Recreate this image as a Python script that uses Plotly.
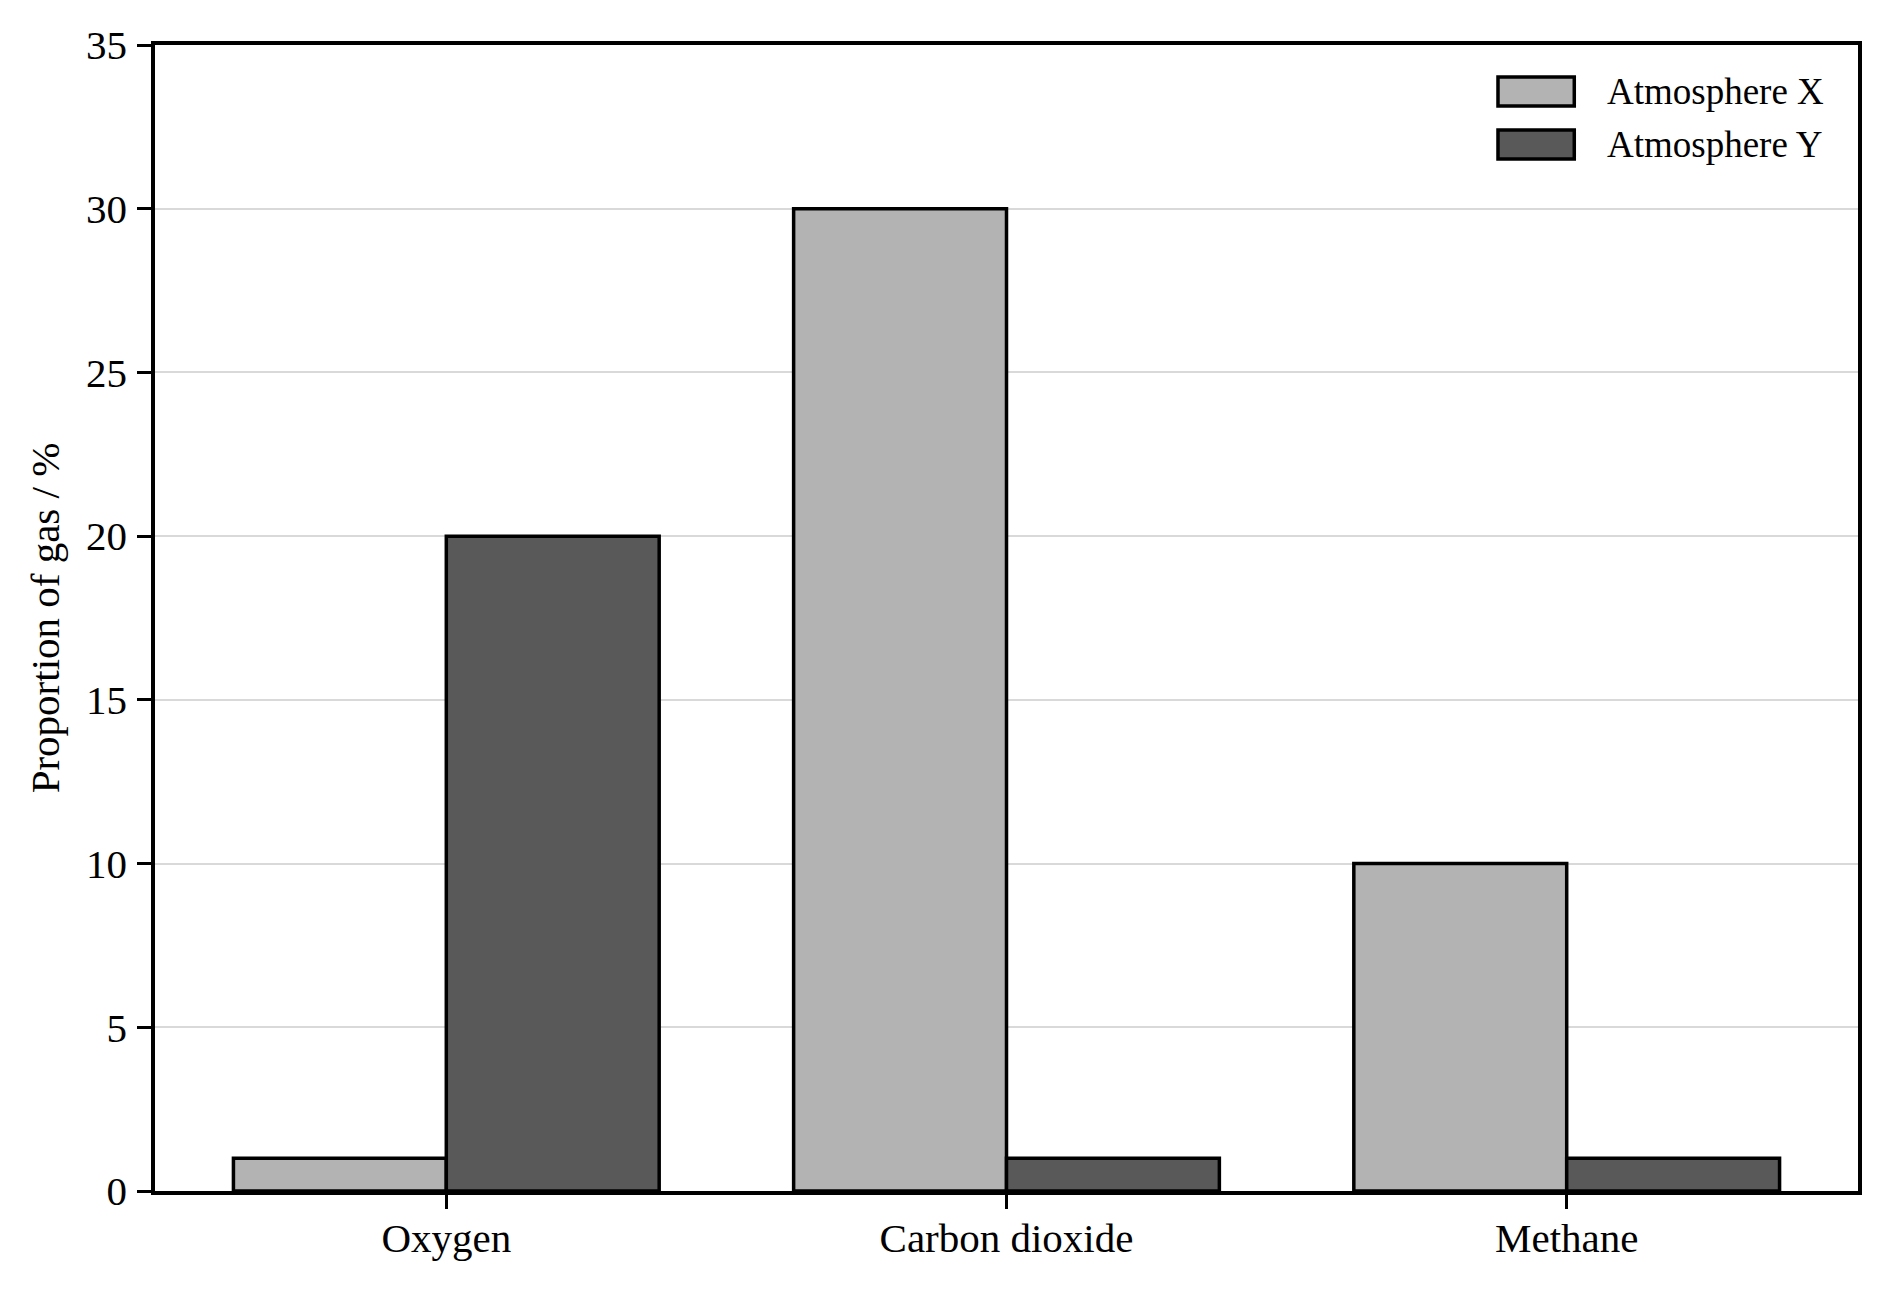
import plotly.graph_objects as go

# data
gases = ["Oxygen", "Carbon dioxide", "Methane"]
series_names = ["Atmosphere X", "Atmosphere Y"]
atmosphere_x = [1, 30, 10]
atmosphere_y = [20, 1, 1]
y_ticks = [0, 5, 10, 15, 20, 25, 30, 35]

fill_colors = ["#b3b3b3", "#595959"]
FONT = "Liberation Serif, Times New Roman, serif"

fig = go.Figure()
for name, values, color in zip(series_names, [atmosphere_x, atmosphere_y], fill_colors):
    fig.add_trace(go.Bar(x=gases, y=values, name=name,
                         marker=dict(color=color, line=dict(color="black", width=3.5)),
                         showlegend=False))

# legend drawn by hand so the patches match the wide matplotlib-style boxes
box_x0, box_x1 = 0.7886, 0.8334
row_tops = [0.9721, 0.9258]
row_h = 0.0253
for name, color, top in zip(series_names, fill_colors, row_tops):
    fig.add_shape(type="rect", xref="paper", yref="paper",
                  x0=box_x0, x1=box_x1, y0=top - row_h, y1=top,
                  fillcolor=color, line=dict(color="black", width=3.5))
    fig.add_annotation(xref="paper", yref="paper", x=0.8514, y=top - row_h / 2,
                       text=name, showarrow=False, xanchor="left", yanchor="middle",
                       font=dict(family=FONT, size=37, color="black"))

# page body has an 8px margin, so the figure is 8px smaller each way
fig.update_layout(
    width=1879, height=1281,
    margin=dict(l=147, r=29, t=37, b=98),
    plot_bgcolor="white", paper_bgcolor="white",
    barmode="group", bargap=0.24, bargroupgap=0,
    font=dict(family=FONT, size=41, color="black"),
)
fig.update_xaxes(
    range=[-0.52, 2.52], showgrid=False,
    showline=True, linecolor="black", linewidth=3.5, mirror=True,
    ticks="outside", ticklen=14, tickwidth=3, tickcolor="black",
    ticklabelstandoff=-6,
)
fig.update_yaxes(
    range=[0, 35], tickvals=y_ticks,
    showgrid=True, gridcolor="#d9d9d9", gridwidth=2, zeroline=False,
    showline=True, linecolor="black", linewidth=3.5, mirror=True,
    ticks="outside", ticklen=14, tickwidth=3, tickcolor="black",
    ticklabelstandoff=2,
    title=dict(text="Proportion of gas / %", standoff=15,
               font=dict(family=FONT, size=41, color="black")),
)

fig.write_html("out.html")
